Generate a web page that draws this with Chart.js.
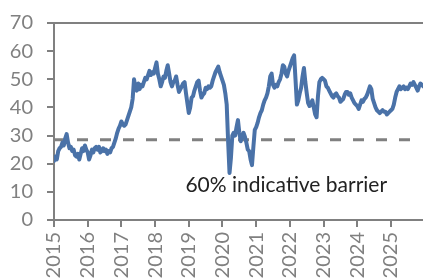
<!DOCTYPE html>
<html><head><meta charset="utf-8">
<script src="https://cdn.jsdelivr.net/npm/chart.js@4/dist/chart.umd.min.js"></script>
<style>html,body{margin:0;padding:0;background:#fff;overflow:hidden}#wrap{width:423px;height:278px}</style>
</head><body><div id="wrap"><canvas id="c" width="423" height="278"></canvas></div>
<script>
// ---- data (twice a month, starting Jan 2015) ----
const startYear = 2015;
const pointsPerYear = 24;
const values2015 = [21, 22.5, 21.5, 24.5, 25.5, 26, 27.5, 26.5, 29, 30.5, 27.5, 25.5, 26, 24.5, 25, 23, 22.5, 23.5, 21.5, 23.5, 25.5, 24.5, 26.5, 25];
const values2016 = [24, 21.5, 23, 25, 24, 25.5, 26, 25, 26, 24, 24.5, 25.5, 24.5, 25, 23.5, 24.5, 24, 25.5, 26, 27.5, 29, 31, 32.5, 33.5];
const values2017 = [35, 34, 33.5, 34, 35.5, 37, 38.5, 40, 43, 50, 47, 46, 48.5, 46.5, 48, 47.5, 49, 50.5, 50, 51.5, 53, 51.5, 52.5, 52];
const values2018 = [54, 56, 52, 50, 47.5, 49, 51, 50.5, 53, 55, 52, 49, 47.5, 49, 49.5, 51, 48, 45.5, 46.5, 47.5, 48.5, 49, 45, 41.5];
const values2019 = [38, 40, 43.5, 44, 46, 47.5, 49, 49.5, 46, 43.5, 44.5, 45, 47, 46.5, 47.5, 47, 47.5, 49.5, 51, 52.5, 53.5, 54.5, 52.5, 51];
const values2020 = [49.5, 48, 45, 41, 28, 16.7, 22, 30, 31, 30, 33, 35.5, 31, 28, 30, 31, 29.5, 27.5, 25, 24.5, 21.5, 19.5, 26, 32];
const values2021 = [33, 34.5, 36.5, 38, 39, 41, 42.5, 43.5, 45, 47.5, 51, 52, 48, 47, 48, 47.5, 49, 50, 52, 55, 54.5, 52, 51, 53];
const values2022 = [54.5, 56, 57.5, 58.5, 50, 41, 42.5, 45, 47, 51, 54, 49, 45, 41.5, 40.5, 41.5, 42.5, 40, 37.5, 36.5, 44, 49, 50, 50.5];
const values2023 = [50, 49.5, 47.5, 47, 46, 45, 44, 43.5, 44.5, 45, 44, 43.5, 42, 42.5, 43, 44.5, 45.5, 45.5, 44.5, 45, 43.5, 42.5, 41.5, 41];
const values2024 = [40.5, 39.5, 41, 42.5, 42, 43, 43.5, 44.5, 46, 47.5, 46.5, 43, 41.5, 40, 39, 38.5, 38, 38.5, 39, 38.5, 38.5, 37.5, 38, 38.5];
const values2025 = [39, 39.5, 41, 43.5, 45.5, 46.5, 47.5, 46.5, 47, 47.5, 46.5, 47, 46.5, 47.5, 48.5, 48, 49, 48, 47, 46, 47.5, 48.5, 48, 47.5];
const seriesValues = [].concat(values2015, values2016, values2017, values2018, values2019,
  values2020, values2021, values2022, values2023, values2024, values2025);

const barrierLevel = 28.5;
const barrierFrom = 2015;
const barrierTo = 2025.72;
const xTickLabels = ['2015','2016','2017','2018','2019','2020','2021','2022','2023','2024','2025'];
const yTickValues = [0, 10, 20, 30, 40, 50, 60, 70];
const annotationText = '60% indicative barrier';
const annotationX = 2018.9;
const annotationY = 12.4;

// ---- chart ----
const blue = '#4a72a8';
const grey = '#808080';
const seriesPoints = seriesValues.map((v, i) => ({ x: startYear + i / pointsPerYear, y: v }));

const annotationPlugin = {
  id: 'annot',
  afterDatasetsDraw(chart) {
    const { ctx, scales } = chart;
    ctx.save();
    ctx.font = '21px Lato';
    ctx.fillStyle = '#222222';
    ctx.textAlign = 'left';
    ctx.textBaseline = 'middle';
    ctx.fillText(annotationText, scales.x.getPixelForValue(annotationX), scales.y.getPixelForValue(annotationY));
    ctx.restore();
  }
};

new Chart(document.getElementById('c'), {
  type: 'line',
  data: {
    datasets: [
      { data: seriesPoints, borderColor: blue, borderWidth: 4, pointRadius: 0, tension: 0,
        borderJoinStyle: 'round', borderCapStyle: 'round' },
      { data: [{ x: barrierFrom, y: barrierLevel }, { x: barrierTo, y: barrierLevel }],
        borderColor: grey, borderWidth: 3, borderDash: [11, 12], pointRadius: 0 }
    ]
  },
  options: {
    responsive: false,
    devicePixelRatio: 1,
    animation: false,
    layout: { padding: { top: 23, left: 0, right: 0, bottom: 0 } },
    plugins: { legend: { display: false }, tooltip: { enabled: false } },
    scales: {
      x: {
        type: 'linear', min: 2015, max: 2025.95,
        afterBuildTicks: s => { s.ticks = xTickLabels.map(l => ({ value: Number(l) })); },
        ticks: { minRotation: 90, maxRotation: 90, autoSkip: false, padding: 5, color: grey,
          font: { family: 'Lato', size: 20 }, callback: (v, i) => xTickLabels[i] },
        grid: { drawOnChartArea: false, tickLength: 7, tickColor: grey, lineWidth: 2 },
        border: { color: grey, width: 2 },
        afterFit: s => { s.paddingLeft = 0; s.paddingRight = 0; s.height = 58; }
      },
      y: {
        min: 0, max: 70,
        afterBuildTicks: s => { s.ticks = yTickValues.map(v => ({ value: v })); },
        ticks: { padding: 14, color: grey, font: { family: 'Lato', size: 20 } },
        grid: { color: c => (c.tick && c.tick.value === 70) ? grey : 'rgba(0,0,0,0)',
          tickColor: grey, tickLength: 7, lineWidth: 2 },
        border: { color: grey, width: 2 },
        afterFit: s => { s.width = 54; s.paddingTop = 0; s.paddingBottom = 0; }
      }
    }
  },
  plugins: [annotationPlugin]
});
</script>
</body></html>
